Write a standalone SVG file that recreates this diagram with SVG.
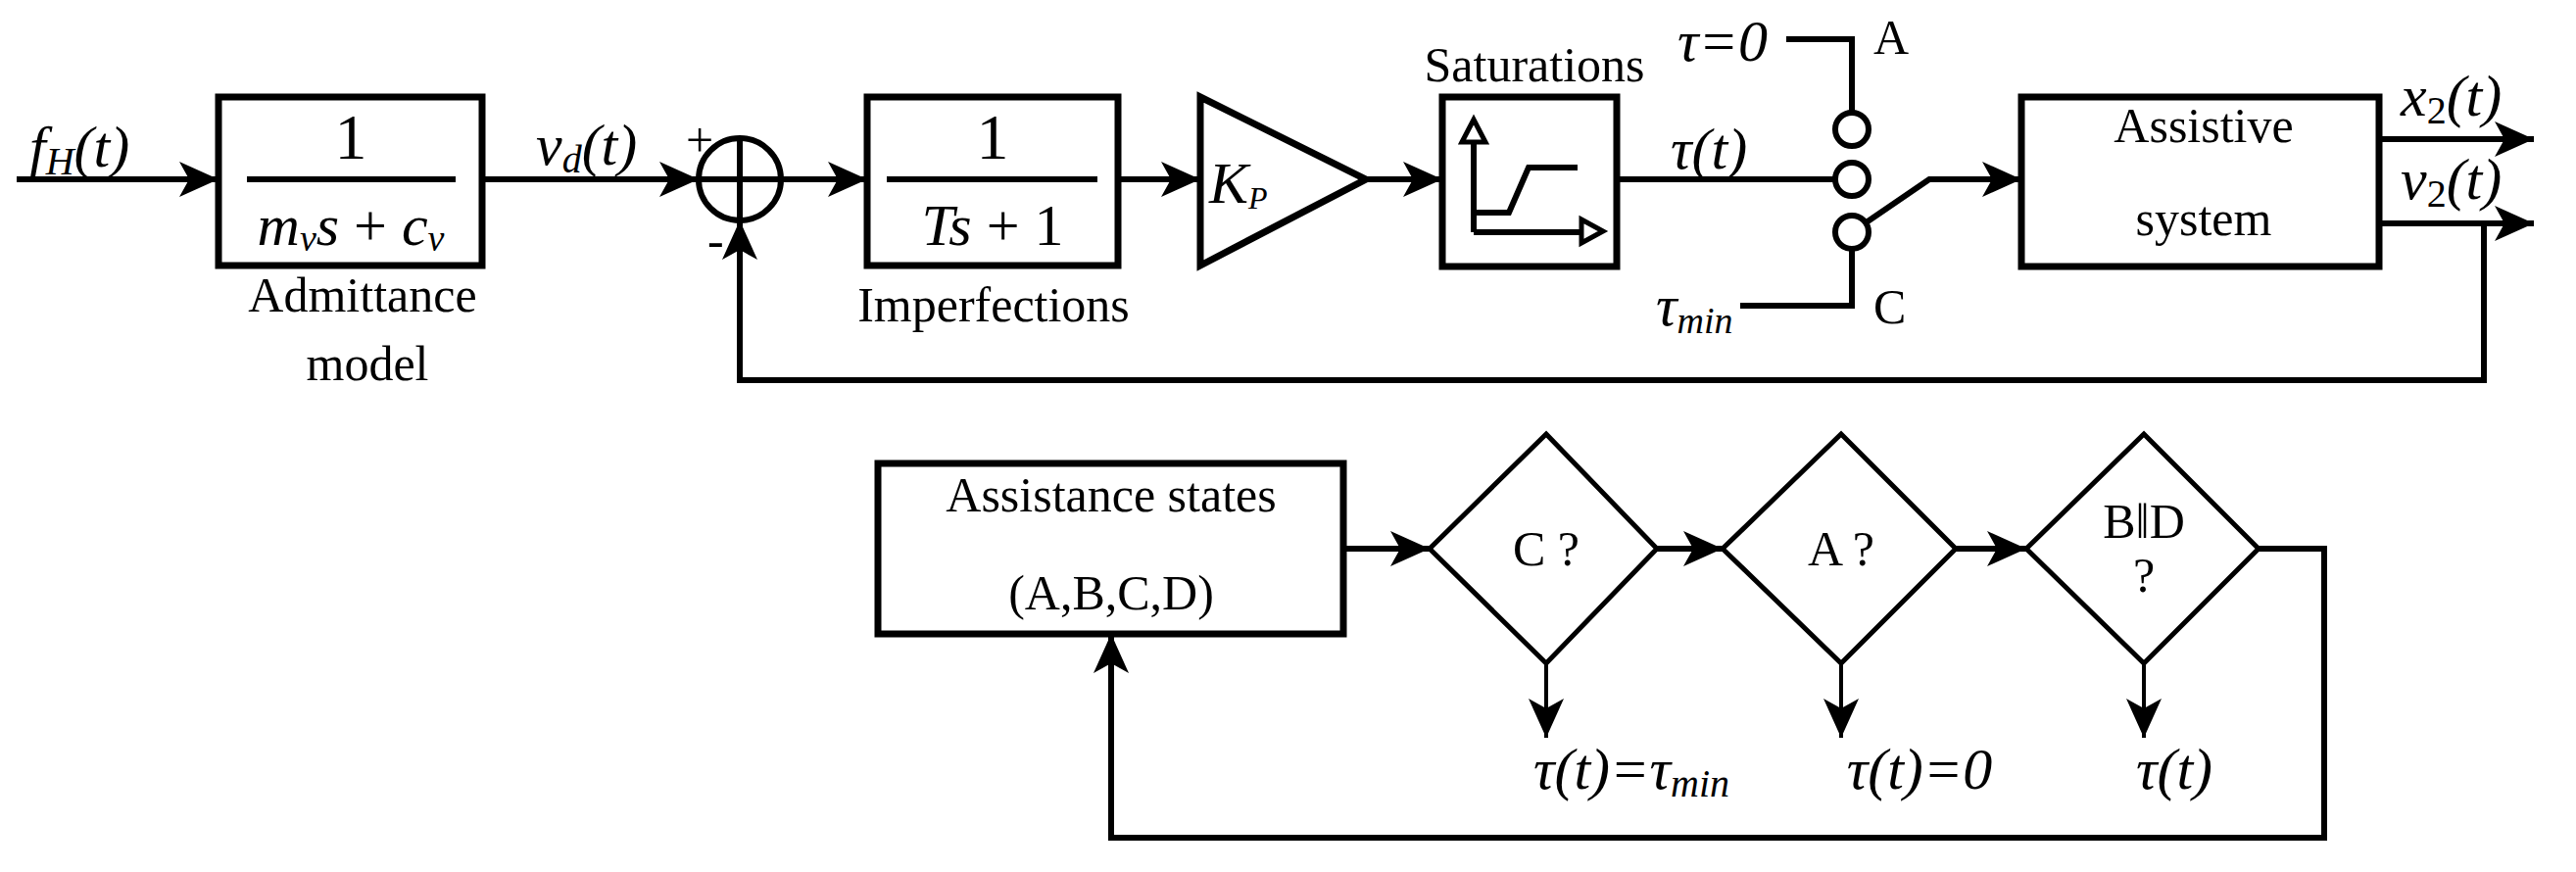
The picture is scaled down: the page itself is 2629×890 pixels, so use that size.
<svg xmlns="http://www.w3.org/2000/svg" width="2629" height="890" viewBox="0 0 2629 890">
<style>
.l{fill:none;stroke:#000;stroke-width:6}
.b{fill:#fff;stroke:#000;stroke-width:7}
.t{font-family:"Liberation Serif",serif;font-size:50px;fill:#000}
.m{font-family:"Liberation Serif",serif;font-style:italic;font-size:60px;fill:#000}
.n{font-family:"Liberation Serif",serif;font-size:66px;fill:#000}
</style>
<defs>
<marker id="a" markerUnits="userSpaceOnUse" markerWidth="40" markerHeight="40" refX="40" refY="20" orient="auto" viewBox="0 0 40 40">
<path d="M0,2 L40,20 L0,38 L10,20 z" fill="#000"/>
</marker>
</defs>
<rect width="2629" height="890" fill="#fff"/>
<g id="connectors">
<path class="l" d="M17,183 H223" marker-end="url(#a)"/>
<path class="l" d="M492,183 H713" marker-end="url(#a)"/>
<path class="l" d="M797,183 H885" marker-end="url(#a)"/>
<path class="l" d="M1141,183 H1225" marker-end="url(#a)"/>
<path class="l" d="M1394,183 H1472" marker-end="url(#a)"/>
<path class="l" d="M1650,183 H1873"/>
<path class="l" d="M1823,40 H1890 V115"/>
<path class="l" d="M1776,312 H1890 V254"/>
<path class="l" d="M1890,237 L1969,183 H2063" marker-end="url(#a)"/>
<path class="l" d="M2428,142 H2586" marker-end="url(#a)"/>
<path class="l" d="M2428,228 H2586" marker-end="url(#a)"/>
<path class="l" d="M2535,228 V388 H755 V225" marker-end="url(#a)"/>
<path class="l" d="M1371,560 H1459" marker-end="url(#a)"/>
<path class="l" d="M1691,560 H1758" marker-end="url(#a)"/>
<path class="l" d="M1996,560 H2068" marker-end="url(#a)"/>
<path class="l" d="M2305,560 H2372 V855 H1134 V647" marker-end="url(#a)"/>
<path class="l" style="stroke-width:4" d="M1578,677 V753" marker-end="url(#a)"/>
<path class="l" style="stroke-width:4" d="M1879,677 V753" marker-end="url(#a)"/>
<path class="l" style="stroke-width:4" d="M2188,677 V753" marker-end="url(#a)"/>
</g>
<g id="input"><text class="m" x="30" y="170">f<tspan font-size="40" dy="8">H</tspan><tspan dy="-8">(t)</tspan></text></g>
<g id="admittance">
<rect class="b" x="223" y="99" width="269" height="172"/>
<text class="n" x="358" y="162" text-anchor="middle">1</text>
<path class="l" d="M252,183 H465"/>
<text class="m" x="358" y="250" text-anchor="middle">m<tspan font-size="38" dy="6">v</tspan><tspan dy="-6">s</tspan><tspan font-style="normal"> + </tspan>c<tspan font-size="38" dy="6">v</tspan></text>
<text class="t" x="370" y="318" text-anchor="middle">Admittance</text>
<text class="t" x="375" y="388" text-anchor="middle">model</text>
</g>
<g id="vd"><text class="m" x="547" y="168">v<tspan font-size="40" dy="8">d</tspan><tspan dy="-8">(t)</tspan></text></g>
<g id="sum">
<circle cx="755" cy="183" r="42" fill="#fff" stroke="#000" stroke-width="6"/>
<path class="l" d="M755,141 V225 M713,183 H797"/>
<text class="t" x="700" y="160" font-size="34">+</text>
<text class="t" x="722" y="262" font-size="44">-</text>
</g>
<g id="imperfections">
<rect class="b" x="885" y="99" width="256" height="172"/>
<text class="n" x="1013" y="162" text-anchor="middle">1</text>
<path class="l" d="M905,183 H1120"/>
<text class="m" x="1013" y="250" text-anchor="middle">Ts<tspan font-style="normal"> + 1</tspan></text>
<text class="t" x="1014" y="328" text-anchor="middle">Imperfections</text>
</g>
<g id="gain">
<path class="b" d="M1225,99 L1394,183 L1225,271 z"/>
<text class="m" x="1234" y="207" font-size="50">K<tspan font-size="32" dy="6">P</tspan></text>
</g>
<g id="saturations">
<text class="t" x="1566" y="83" text-anchor="middle" font-size="40">Saturations</text>
<rect class="b" x="1472" y="99" width="178" height="173"/>
<path class="l" d="M1504,237 V145 M1504,237 H1614 M1504,217 H1540 L1560,171 H1610"/>
<path d="M1492,145 L1504,122 L1516,145 z M1614,224 L1636,236 L1614,248 z" fill="#fff" stroke="#000" stroke-width="5"/>
</g>
<g id="switch">
<text class="m" x="1705" y="172">τ(t)</text>
<circle cx="1890" cy="132" r="17" fill="#fff" stroke="#000" stroke-width="6"/>
<circle cx="1890" cy="183" r="17" fill="#fff" stroke="#000" stroke-width="6"/>
<circle cx="1890" cy="237" r="17" fill="#fff" stroke="#000" stroke-width="6"/>
<text class="m" x="1712" y="62">τ=0</text>
<text class="t" x="1912" y="55">A</text>
<text class="m" x="1690" y="332">τ<tspan font-size="38" dy="8">min</tspan></text>
<text class="t" x="1912" y="330">C</text>
</g>
<g id="assistive">
<rect class="b" x="2063" y="99" width="365" height="173"/>
<text class="t" x="2249" y="145" text-anchor="middle">Assistive</text>
<text class="t" x="2249" y="240" text-anchor="middle">system</text>
<text class="m" x="2450" y="118">x<tspan font-style="normal" font-size="40" dy="8">2</tspan><tspan dy="-8">(t)</tspan></text>
<text class="m" x="2450" y="203">v<tspan font-style="normal" font-size="40" dy="8">2</tspan><tspan dy="-8">(t)</tspan></text>
</g>
<g id="states">
<rect class="b" x="896" y="473" width="475" height="174"/>
<text class="t" x="1134" y="522" text-anchor="middle">Assistance states</text>
<text class="t" x="1134" y="622" text-anchor="middle">(A,B,C,D)</text>
</g>
<g id="d1">
<path class="b" style="stroke-width:5" d="M1578,443 L1691,560 L1578,677 L1459,560 z"/>
<text class="t" x="1578" y="577" text-anchor="middle">C ?</text>
<text class="m" x="1665" y="805" text-anchor="middle" font-size="64">τ(t)=τ<tspan font-size="40" dy="8">min</tspan></text>
</g>
<g id="d2">
<path class="b" style="stroke-width:5" d="M1879,443 L1996,560 L1879,677 L1758,560 z"/>
<text class="t" x="1879" y="577" text-anchor="middle">A ?</text>
<text class="m" x="1959" y="805" text-anchor="middle" font-size="64">τ(t)=0</text>
</g>
<g id="d3">
<path class="b" style="stroke-width:5" d="M2188,443 L2305,560 L2188,677 L2068,560 z"/>
<text class="t" x="2188" y="549" text-anchor="middle">B‖D</text>
<text class="t" x="2188" y="604" text-anchor="middle">?</text>
<text class="m" x="2219" y="805" text-anchor="middle" font-size="64">τ(t)</text>
</g>
</svg>
